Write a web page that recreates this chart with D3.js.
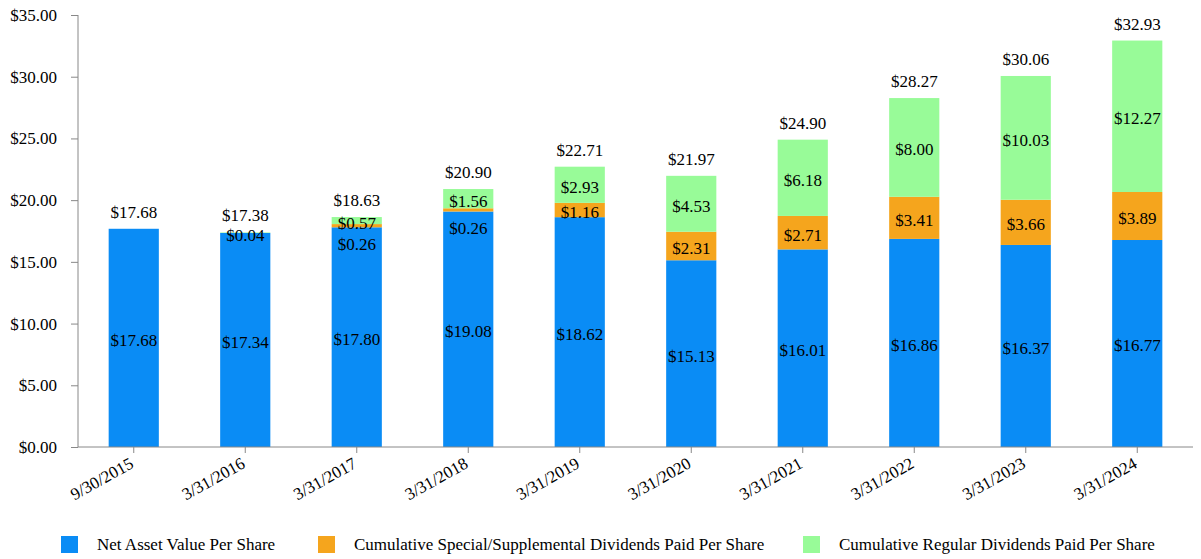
<!DOCTYPE html>
<html><head><meta charset="utf-8">
<script src="https://cdn.jsdelivr.net/npm/d3@7"></script>
<style>body{margin:0;background:#fff}svg{display:block}svg text{font-family:"Liberation Serif","Times New Roman",serif !important;fill:#000}</style>
</head><body><svg id="c" width="1201" height="559" font-family="Liberation Serif"></svg>
<script>
const categories = ["9/30/2015","3/31/2016","3/31/2017","3/31/2018","3/31/2019","3/31/2020","3/31/2021","3/31/2022","3/31/2023","3/31/2024"];
const navPerShare = [17.68,17.34,17.80,19.08,18.62,15.13,16.01,16.86,16.37,16.77];
const specialDividends = [0,0,0.26,0.26,1.16,2.31,2.71,3.41,3.66,3.89];
const regularDividends = [0,0.04,0.57,1.56,2.93,4.53,6.18,8.00,10.03,12.27];
const totals = [17.68,17.38,18.63,20.90,22.71,21.97,24.90,28.27,30.06,32.93];
const yTicks = [0,5,10,15,20,25,30,35];
const seriesNames = ["Net Asset Value Per Share","Cumulative Special/Supplemental Dividends Paid Per Share","Cumulative Regular Dividends Paid Per Share"];
const colors = ["#0a8cf5","#f5a51d","#98fb98"];

const FS = 17;
const svg = d3.select("#c");
const mLeft = 78, mRight = 1193, mTop = 15, mBottom = 447;
const x = d3.scaleBand().domain(categories).range([mLeft,mRight]).paddingInner(0.55).paddingOuter(0.275);
const y = d3.scaleLinear().domain([0,35]).range([mBottom,mTop]);
const fmt = v => "$" + d3.format(".2f")(v);

const rows = categories.map((c,i)=>({cat:c, nav:navPerShare[i], sp:specialDividends[i], rg:regularDividends[i], total:totals[i]}));
const stack = d3.stack().keys(["nav","sp","rg"])(rows);

// bars
stack.forEach((layer,li)=>{
  svg.append("g").selectAll("rect").data(layer).join("rect")
    .attr("x",d=>x(d.data.cat)).attr("width",x.bandwidth())
    .attr("y",d=>y(d[1])).attr("height",d=>Math.max(0,y(d[0])-y(d[1])))
    .attr("fill",colors[li]);
});

// axes
const ya = svg.append("g").attr("transform",`translate(${mLeft},0)`)
  .call(d3.axisLeft(y).tickValues(yTicks).tickFormat(fmt).tickSize(7).tickPadding(14));
ya.attr("font-family","Liberation Serif").attr("font-size",FS);
ya.selectAll("line,path").attr("stroke","#888");
ya.select(".domain").attr("d",`M0,${mTop}V${mBottom}`);

const xa = svg.append("g").attr("transform",`translate(0,${mBottom})`)
  .call(d3.axisBottom(x).tickSize(6).tickSizeOuter(0));
xa.attr("font-family","Liberation Serif").attr("font-size",FS);
xa.select(".domain").attr("stroke","#888").attr("d",`M${mLeft},0H${mRight}`);
xa.selectAll("line").attr("stroke","#888");
xa.selectAll("text")
  .attr("text-anchor","end").attr("dy","0").attr("y",0)
  .attr("transform","translate(1,20) rotate(-29)");

// segment labels: thin special-dividend segments get their label just below the segment
function labelY(d, li){
  if (li===1 && (d[1]-d[0]) < 0.5) return y(d[0]) + 17;
  return y((d[0]+d[1])/2) + 2;
}
stack.forEach((layer,li)=>{
  svg.append("g").selectAll("text").data(layer.filter(d=>d[1]-d[0]>0)).join("text")
    .attr("x",d=>x(d.data.cat)+x.bandwidth()/2)
    .attr("y",d=>labelY(d,li))
    .attr("dy","0.35em")
    .attr("text-anchor","middle").attr("font-size",FS)
    .text(d=>fmt(d[1]-d[0]));
});
// total labels
svg.append("g").selectAll("text").data(rows).join("text")
  .attr("x",d=>x(d.cat)+x.bandwidth()/2)
  .attr("y",d=>y(d.total)-11)
  .attr("text-anchor","middle").attr("font-size",FS)
  .text(d=>fmt(d.total));

// legend
const legX = [61,318,803];
const lg = svg.append("g");
seriesNames.forEach((n,i)=>{
  lg.append("rect").attr("x",legX[i]).attr("y",536).attr("width",17).attr("height",17).attr("fill",colors[i]);
  lg.append("text").attr("x",legX[i]+36).attr("y",550).attr("font-size",FS).text(n);
});
</script></body></html>
